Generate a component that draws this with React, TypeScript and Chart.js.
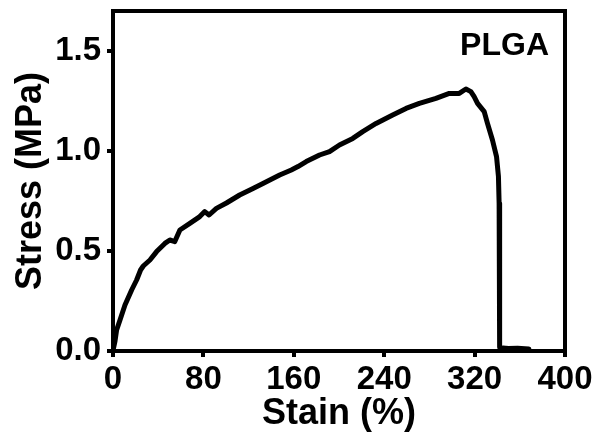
import React, { useEffect, useRef } from 'react';
import { Chart, registerables } from 'chart.js';

Chart.register(...registerables);

const strain = [
  0, 0.3, 1.8, 3.2, 6.2, 10.6, 16.5, 20.9, 24.4, 26.8, 32.7, 38.6, 45.9, 50.3, 54.7, 59.2,
  68, 76.8, 81.2, 85, 91.5, 100.4, 112.1, 123.9, 132.7, 147.5, 157.8, 163.7, 171, 182.8,
  191.6, 200.4, 212.2, 221, 232.8, 247.5, 259.3, 271.1, 285.8, 297.6, 306.4, 312.3, 316.7,
  319.6, 322.6, 328.5, 331.4, 335.8, 339.4, 341.1, 341.7, 342, 342.3, 342.6, 345, 350, 358, 368,
];
const stress = [
  0, 0.01, 0.05, 0.105, 0.155, 0.23, 0.305, 0.355, 0.405, 0.425, 0.455, 0.497, 0.538, 0.555, 0.547, 0.605,
  0.638, 0.672, 0.697, 0.68, 0.713, 0.74, 0.78, 0.813, 0.838, 0.88, 0.905, 0.922, 0.947, 0.98,
  0.997, 1.03, 1.063, 1.097, 1.138, 1.18, 1.213, 1.238, 1.263, 1.288, 1.288, 1.31, 1.297,
  1.272, 1.238, 1.197, 1.138, 1.055, 0.972, 0.872, 0.738, 0.572, 0.02, 0.01, 0.015, 0.012, 0.014, 0.01,
];
const xTicks = [0, 80, 160, 240, 320, 400];
const yTicks = [0, 0.5, 1.0, 1.5];
const xLabel = 'Stain (%)';
const yLabel = 'Stress (MPa)';
const sampleLabel = 'PLGA';

const FONT = '"Liberation Sans", Arial, Helvetica, sans-serif';

export default function App() {
  const ref = useRef<HTMLCanvasElement>(null);

  useEffect(() => {
    if (!ref.current) return;
    const framePlugin = {
      id: 'frame',
      afterDraw(chart: any) {
        const { ctx, chartArea: a } = chart;
        ctx.save();
        ctx.strokeStyle = '#000';
        ctx.lineWidth = 4;
        ctx.beginPath();
        ctx.moveTo(a.left - 2, a.top);
        ctx.lineTo(a.right, a.top);
        ctx.lineTo(a.right, a.bottom + 2);
        ctx.stroke();
        ctx.fillStyle = '#000';
        ctx.font = `bold 32px ${FONT}`;
        ctx.textAlign = 'right';
        ctx.textBaseline = 'alphabetic';
        ctx.fillText(sampleLabel, a.right - 16, a.top + 44);
        ctx.restore();
      },
    };

    const chart = new Chart(ref.current, {
      type: 'line',
      data: {
        datasets: [
          {
            data: strain.map((x, i) => ({ x, y: stress[i] })),
            borderColor: '#000',
            borderWidth: 5,
            pointRadius: 0,
            tension: 0,
            fill: false,
            borderJoinStyle: 'round',
            borderCapStyle: 'round',
          },
        ],
      },
      options: {
        animation: false,
        responsive: false,
        devicePixelRatio: 1,
        layout: { padding: { left: 0, right: 32, top: 11, bottom: 0 } },
        plugins: { legend: { display: false }, tooltip: { enabled: false } },
        scales: {
          x: {
            type: 'linear',
            min: 0,
            max: 400,
            afterBuildTicks: (s: any) => {
              s.ticks = xTicks.map((v) => ({ value: v }));
            },
            afterFit: (s: any) => {
              s.height = 83;
              s.paddingLeft = 0;
              s.paddingRight = 0;
            },
            ticks: {
              color: '#000',
              font: { family: FONT, size: 33, weight: 'bold' },
              padding: 3,
              maxRotation: 0,
              autoSkip: false,
            },
            grid: { drawOnChartArea: false, drawTicks: true, tickLength: 6, lineWidth: 4, color: '#000' },
            border: { display: true, width: 4, color: '#000' },
            title: {
              display: true,
              text: xLabel,
              color: '#000',
              font: { family: FONT, size: 36, weight: 'bold', lineHeight: 1 },
              padding: { top: 0, bottom: 2 },
            },
          },
          y: {
            type: 'linear',
            min: 0,
            max: 1.7,
            afterBuildTicks: (s: any) => {
              s.ticks = yTicks.map((v) => ({ value: v }));
            },
            afterFit: (s: any) => {
              s.width = 113;
              s.paddingTop = 0;
              s.paddingBottom = 0;
            },
            ticks: {
              color: '#000',
              font: { family: FONT, size: 33, weight: 'bold' },
              padding: 6,
              callback: (v: any) => Number(v).toFixed(1),
            },
            grid: { drawOnChartArea: false, drawTicks: true, tickLength: 6, lineWidth: 4, color: '#000' },
            border: { display: true, width: 4, color: '#000' },
            title: {
              display: true,
              text: yLabel,
              color: '#000',
              font: { family: FONT, size: 36, weight: 'bold', lineHeight: 1 },
              padding: { top: 13, bottom: 0 },
            },
          },
        },
      },
      plugins: [framePlugin],
    } as any);
    return () => chart.destroy();
  }, []);

  return (
    <div style={{ position: 'absolute', left: 0, top: 0, width: 597, height: 434 }}>
      <canvas ref={ref} width={597} height={434} style={{ display: 'block' }} />
    </div>
  );
}
